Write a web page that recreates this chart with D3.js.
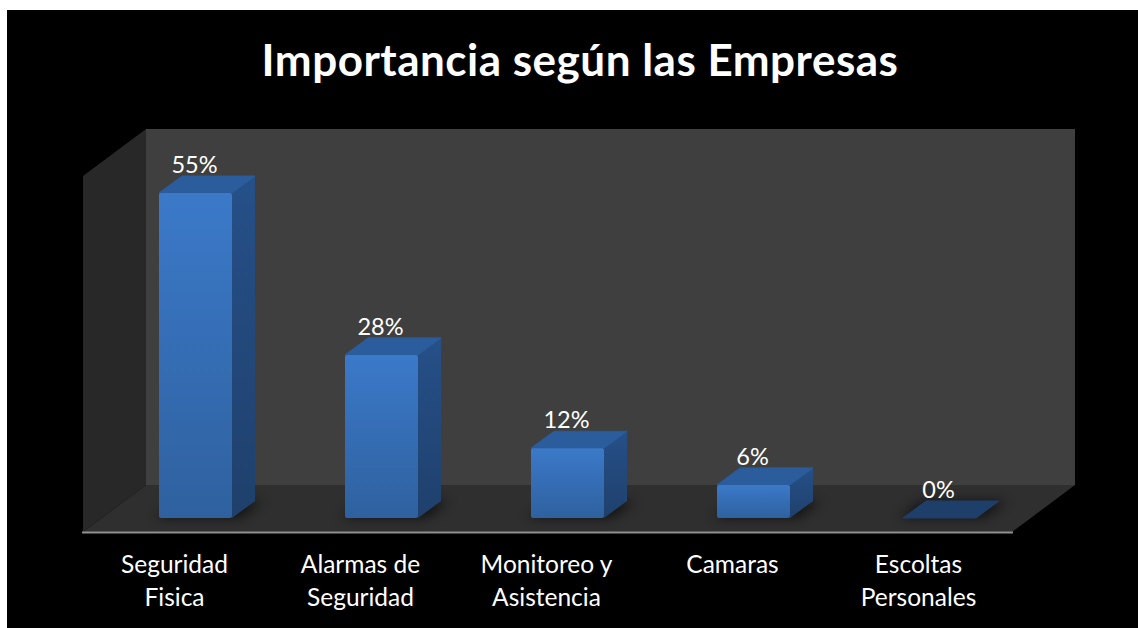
<!DOCTYPE html>
<html>
<head>
<meta charset="utf-8">
<script src="https://cdn.jsdelivr.net/npm/d3@7"></script>
<style>
  html, body { margin: 0; padding: 0; background: #fff; overflow: hidden; }
  text { font-family: Lato, "Open Sans", sans-serif; fill: #fff; }
</style>
</head>
<body>
<div id="chart"></div>
<script>
var categories = [["Seguridad", "Fisica"], ["Alarmas de", "Seguridad"], ["Monitoreo y", "Asistencia"], ["Camaras"], ["Escoltas", "Personales"]];
var values = [55, 27.6, 11.8, 5.6, 0];
var valueLabels = ["55%", "28%", "12%", "6%", "0%"];

var svg = d3.select("#chart").append("svg")
    .attr("width", 1138)
    .attr("height", 628);

// floor depth of the fake 3d box
var depthX = 63, depthY = -47;
// same thing for the bars
var barDX = 23, barDY = -17;

// bars sit 19.5px right of the middle of their slot because of the depth
var x = d3.scaleBand().domain(d3.range(5)).range([102.5, 1032.5]).paddingInner(0.6075).paddingOuter(0.30375);
var y = d3.scaleLinear().domain([0, 55]).range([518, 193]);

var defs = svg.append("defs");
var front = defs.append("linearGradient").attr("id", "front").attr("x1", 0).attr("y1", 0).attr("x2", 0).attr("y2", 1);
front.append("stop").attr("offset", 0).attr("stop-color", "#3b79c9");
front.append("stop").attr("offset", 1).attr("stop-color", "#2f619f");
var side = defs.append("linearGradient").attr("id", "side").attr("x1", 0).attr("y1", 0).attr("x2", 0).attr("y2", 1);
side.append("stop").attr("offset", 0).attr("stop-color", "#265089");
side.append("stop").attr("offset", 1).attr("stop-color", "#1f406c");
defs.append("filter").attr("id", "blur").attr("x", "-30%").attr("y", "-100%").attr("width", "160%").attr("height", "300%")
    .append("feGaussianBlur").attr("stdDeviation", 6);

// black slide
svg.append("rect").attr("x", 7).attr("y", 10).attr("width", 1131).attr("height", 618).attr("fill", "#000");

// title
svg.append("text").attr("x", 580).attr("y", 76).attr("text-anchor", "middle")
    .style("font-size", "44px").style("font-weight", 700).style("letter-spacing", "0.5px")
    .text("Importancia según las Empresas");

// walls and floor
var x0 = 83, x1 = 1012, yb = 532, yt = 176;

svg.append("rect").attr("x", x0 + depthX).attr("y", yt + depthY).attr("width", x1 - x0).attr("height", yb - yt)
    .attr("fill", "#3f3f3f");
svg.append("polygon").attr("fill", "#282828")
    .attr("points", [[x0, yt], [x0 + depthX, yt + depthY], [x0 + depthX, yb + depthY], [x0, yb]].join(" "));
svg.append("polygon").attr("fill", "#2f2f2f")
    .attr("points", [[x0, yb], [x0 + depthX, yb + depthY], [x1 + depthX, yb + depthY], [x1, yb]].join(" "));
svg.append("line").attr("x1", x0 - 1).attr("x2", x1 + 1).attr("y1", yb + 0.5).attr("y2", yb + 0.5)
    .attr("stroke", "#8f8f8f").attr("stroke-width", 2);

var bars = svg.selectAll(".bar").data(values).enter().append("g").attr("class", "bar");

// soft shadow on the floor
bars.append("polygon")
    .attr("fill", "#000").attr("opacity", 0.6).attr("filter", "url(#blur)")
    .attr("points", function(d, i) {
      var l = x(i) - 4, r = l + x.bandwidth() + 12, b = y(0);
      return [[l, b], [l + barDX, b + barDY], [r + barDX, b + barDY], [r, b]].join(" ");
    });

// side face
bars.append("polygon")
    .attr("fill", "url(#side)")
    .attr("points", function(d, i) {
      var r = x(i) + x.bandwidth();
      return [[r, y(d)], [r + barDX, y(d) + barDY], [r + barDX, y(0) + barDY], [r, y(0)]].join(" ");
    });

// top face
bars.append("polygon")
    .attr("fill", function(d) { return d > 0 ? "#2b5c9b" : "#1f3f6b"; })
    .attr("stroke", function(d) { return d > 0 ? "#2b5c9b" : "#1f3f6b"; })
    .attr("stroke-width", 1)
    .attr("stroke-linejoin", "round")
    .attr("points", function(d, i) {
      var l = x(i), r = l + x.bandwidth();
      return [[l, y(d)], [l + barDX, y(d) + barDY], [r + barDX, y(d) + barDY], [r, y(d)]].join(" ");
    });

// front face
bars.append("rect")
    .attr("x", function(d, i) { return x(i); })
    .attr("y", function(d) { return y(d); })
    .attr("width", x.bandwidth())
    .attr("height", function(d) { return y(0) - y(d); })
    .attr("rx", 2)
    .attr("fill", "url(#front)");

// value labels
svg.selectAll(".val").data(valueLabels).enter().append("text")
    .attr("class", "val")
    .attr("x", function(d, i) { return x(i) + x.bandwidth() / 2 - 1; })
    .attr("y", function(d, i) { return y(values[i]) - 20; })
    .attr("text-anchor", "middle")
    .style("font-size", "23.5px")
    .text(function(d) { return d; });

// category labels, centred on the slot and not on the bar
var labels = svg.selectAll(".cat").data(categories).enter().append("text")
    .attr("class", "cat")
    .attr("text-anchor", "middle")
    .style("font-size", "24.5px");
labels.selectAll("tspan").data(function(d, i) {
      return d.map(function(t) { return { t: t, i: i }; });
    }).enter().append("tspan")
    .attr("x", function(d) { return x(d.i) + x.bandwidth() / 2 - 21; })
    .attr("y", function(d, j) { return 573 + j * 33; })
    .text(function(d) { return d.t; });
</script>
</body>
</html>
